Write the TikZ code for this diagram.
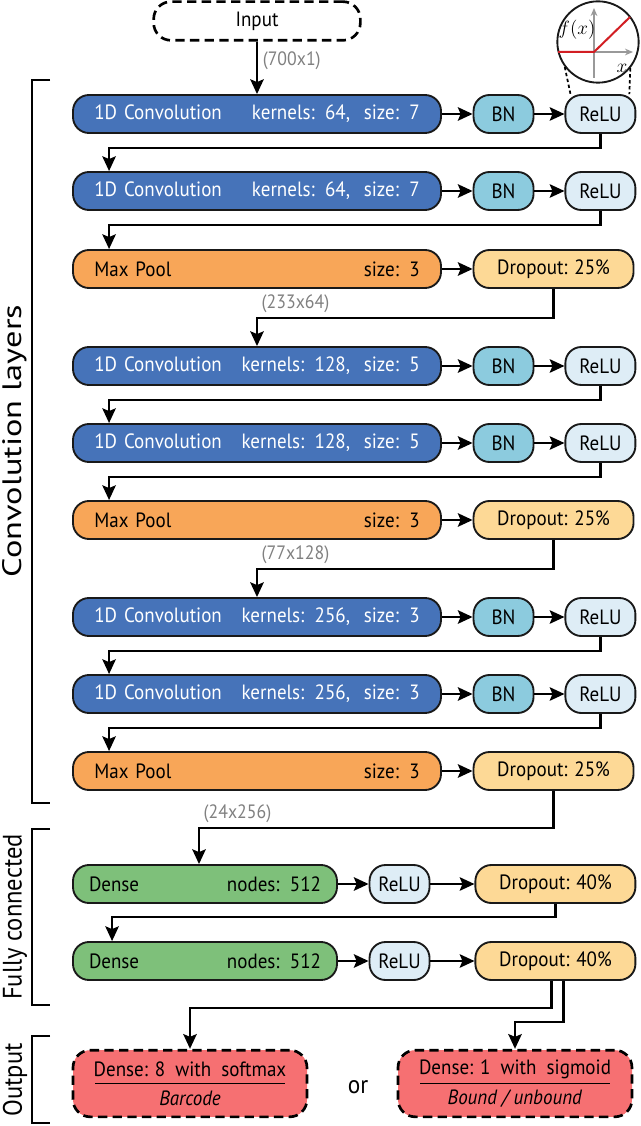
\documentclass[tikz,border=0pt]{standalone}
\usepackage{fontspec}
\setmainfont{PT Sans}[FakeStretch=0.92]
\usepackage{graphicx}
\usetikzlibrary{arrows.meta,positioning,calc}
\definecolor{convblue}{RGB}{70,115,185}
\definecolor{bnblue}{RGB}{140,203,222}
\definecolor{relublue}{RGB}{222,237,246}
\definecolor{poolorange}{RGB}{248,166,88}
\definecolor{dropyellow}{RGB}{253,217,150}
\definecolor{densegreen}{RGB}{126,192,122}
\definecolor{outred}{RGB}{246,112,114}
\definecolor{dimgray}{RGB}{128,128,128}
\definecolor{relured}{RGB}{210,30,35}
\newcommand\layerfont{\fontsize{15.5}{17}\selectfont}
\newcommand\dimfont{\fontsize{14.5}{16}\selectfont}
\newcommand\groupfont{\fontsize{20}{22}\selectfont}

\begin{document}
\begin{tikzpicture}[x=0.75pt, y=-0.75pt,
    box/.style={draw=black!90, line width=1.4pt, rounded corners=12pt, fill=#1, minimum height=28.5pt, font=\layerfont},
    layer/.style 2 args={box=#1, text width=#2, inner xsep=16pt, align=left},
    unit/.style={box=#1, inner xsep=2pt},
    outbox/.style={draw, line width=2pt, dash pattern=on 7pt off 4pt, rounded corners=13pt, fill=outred, minimum width=175.5pt, minimum height=50pt, align=center, font=\fontsize{15.5}{22}\selectfont},
    arr/.style={-{Stealth[length=11pt, width=10pt, inset=2pt]}, line width=2pt},
    dim/.style={font=\dimfont, text=dimgray},
    bracket/.style={line width=1.3pt},
    group/.style={font=\groupfont, rotate=90},
    axis/.style={-{Stealth[length=6pt, width=5pt]}, draw=dimgray!80, line width=1pt}
]
\useasboundingbox (0,0) rectangle (640,1126);

% input
\node[draw, line width=2pt, dash pattern=on 7pt off 4pt, rounded corners=13pt, minimum width=155pt, minimum height=29pt, font=\layerfont] (in) at (257,21) {Input};

% convolution block 1
\node[layer={convblue}{244pt}, text=white] (c1) at (257,114) {1D Convolution\hfill kernels: 64,\ \ size: 7};
\node[unit=bnblue, minimum width=45pt, right=23pt of c1] (bn1) {BN};
\node[unit=relublue, minimum width=52.5pt, right=22.5pt of bn1] (r1) {ReLU};
\node[layer={convblue}{244pt}, text=white] (c2) at (257,191) {1D Convolution\hfill kernels: 64,\ \ size: 7};
\node[unit=bnblue, minimum width=45pt, right=23pt of c2] (bn2) {BN};
\node[unit=relublue, minimum width=52.5pt, right=22.5pt of bn2] (r2) {ReLU};
\node[layer={poolorange}{244pt}] (mp1) at (257,269) {Max Pool\hfill size: 3};
\node[unit=dropyellow, minimum width=120pt, right=23pt of mp1] (do1) {Dropout: 25\%};

% convolution block 2
\node[layer={convblue}{244pt}, text=white] (c3) at (257,366) {1D Convolution\hfill kernels: 128,\ \ size: 5};
\node[unit=bnblue, minimum width=45pt, right=23pt of c3] (bn3) {BN};
\node[unit=relublue, minimum width=52.5pt, right=22.5pt of bn3] (r3) {ReLU};
\node[layer={convblue}{244pt}, text=white] (c4) at (257,443) {1D Convolution\hfill kernels: 128,\ \ size: 5};
\node[unit=bnblue, minimum width=45pt, right=23pt of c4] (bn4) {BN};
\node[unit=relublue, minimum width=52.5pt, right=22.5pt of bn4] (r4) {ReLU};
\node[layer={poolorange}{244pt}] (mp2) at (257,520) {Max Pool\hfill size: 3};
\node[unit=dropyellow, minimum width=120pt, right=23pt of mp2] (do2) {Dropout: 25\%};

% convolution block 3
\node[layer={convblue}{244pt}, text=white] (c5) at (257,617) {1D Convolution\hfill kernels: 256,\ \ size: 3};
\node[unit=bnblue, minimum width=45pt, right=23pt of c5] (bn5) {BN};
\node[unit=relublue, minimum width=52.5pt, right=22.5pt of bn5] (r5) {ReLU};
\node[layer={convblue}{244pt}, text=white] (c6) at (257,694) {1D Convolution\hfill kernels: 256,\ \ size: 3};
\node[unit=bnblue, minimum width=45pt, right=23pt of c6] (bn6) {BN};
\node[unit=relublue, minimum width=52.5pt, right=22.5pt of bn6] (r6) {ReLU};
\node[layer={poolorange}{244pt}] (mp3) at (257,771) {Max Pool\hfill size: 3};
\node[unit=dropyellow, minimum width=120pt, right=23pt of mp3] (do3) {Dropout: 25\%};

% fully connected
\node[layer={densegreen}{174pt}, inner xsep=12pt] (d1) at (205,884) {Dense\hfill nodes: 512};
\node[unit=relublue, minimum width=45pt, right=23pt of d1] (dr1) {ReLU};
\node[unit=dropyellow, minimum width=120pt, right=33pt of dr1] (dd1) {Dropout: 40\%};
\node[layer={densegreen}{174pt}, inner xsep=12pt] (d2) at (205,961) {Dense\hfill nodes: 512};
\node[unit=relublue, minimum width=45pt, right=23pt of d2] (dr2) {ReLU};
\node[unit=dropyellow, minimum width=120pt, right=33pt of dr2] (dd2) {Dropout: 40\%};

% output
\node[outbox] (o1) at (190,1083.5) {Dense: 8\ \ with\ \ softmax\\\textit{Barcode}};
\node[outbox] (o2) at (515,1083.5) {Dense: 1\ \ with\ \ sigmoid\\\textit{Bound / unbound}};
\node[font=\fontsize{19}{20}\selectfont] (or) at (358,1087) {or};
\draw[line width=0.9pt] ($(o1.center)+(-95,0)$) -- ($(o1.center)+(95,0)$);
\draw[line width=0.9pt] ($(o2.center)+(-95,0)$) -- ($(o2.center)+(95,0)$);

% ReLU inset
\node[circle, draw=black!90, line width=1.4pt, fill=white, minimum size=61pt, inner sep=0pt] (fx) at (598,42) {};
\begin{scope}[shift={(fx.center)}]
  \draw[axis] (-40,10) -- (35,10);
  \draw[axis] (-4,36) -- (-4,-34);
  \draw[relured, line width=1.5pt] (-40,10) -- (-4,10) -- (32,-25);
  \node[font=\fontsize{13.5}{15}\selectfont] at (-21,-12) {$f(x)$};
  \node[font=\fontsize{15}{17}\selectfont] at (24,26) {$x$};
\end{scope}
\draw[line width=1.3pt, dash pattern=on 2.5pt off 2pt] (fx.217) -- ($(r1.north west)+(6,0)$);
\draw[line width=1.3pt, dash pattern=on 2.5pt off 2pt] (fx.-39) -- ($(r1.north east)+(-7,0)$);

% connectors
\draw[arr] (in) -- (c1) node[dim, midway, right, yshift=5pt] {(700x1)};
\foreach \a/\b/\c in {c1/bn1/r1, c2/bn2/r2, c3/bn3/r3, c4/bn4/r4, c5/bn5/r5, c6/bn6/r6}{
  \draw[arr] (\a) -- (\b);
  \draw[arr] (\b) -- (\c);
}
\draw[arr] (mp1) -- (do1);
\draw[arr] (mp2) -- (do2);
\draw[arr] (mp3) -- (do3);
\draw[arr] (r1.south) -- ++(0,14) -| ($(c2.north west)+(37,0)$);
\draw[arr] (r2.south) -- ++(0,14) -| ($(mp1.north west)+(37,0)$);
\draw[arr] (r3.south) -- ++(0,14) -| ($(c4.north west)+(37,0)$);
\draw[arr] (r4.south) -- ++(0,14) -| ($(mp2.north west)+(37,0)$);
\draw[arr] (r5.south) -- ++(0,14) -| ($(c6.north west)+(37,0)$);
\draw[arr] (r6.south) -- ++(0,14) -| ($(mp3.north west)+(37,0)$);
\draw[arr] (do1.south) -- ++(0,29) coordinate (k1) -| (c3.north);
\node[dim, anchor=south west] at (k1 -| c3.north) {(233x64)};
\draw[arr] (do2.south) -- ++(0,29) coordinate (k2) -| (c5.north);
\node[dim, anchor=south west] at (k2 -| c5.north) {(77x128)};
\draw[arr] (do3.south) -- ++(0,37) coordinate (k3) -| ($(d1.north)+(-6,0)$);
\node[dim, anchor=south west] at ($(k3 -| d1.north)+(-6,0)$) {(24x256)};
\draw[arr] (dr1) -- (dd1);
\draw[arr] (d1) -- (dr1);
\draw[arr] (d2) -- (dr2);
\draw[arr] (dr2) -- (dd2);
\draw[arr] (dd1.south) -- ++(0,13) -| ($(d2.north west)+(40,0)$);
\draw[arr] ($(dd2.south)+(-4,0)$) -- ++(0,27) -| (o1.north);
\draw[arr] ($(dd2.south)+(8,0)$) -- ++(0,41) -| (o2.north);

% group brackets
\draw[bracket] (50,80) -- (32,80) -- (32,803) -- (50,803);
\node[group] (convlab) at (15,441) {\scalebox{1.4}[1]{Convolution layers}};
\draw[bracket] (50,829) -- (32,829) -- (32,1005) -- (50,1005);
\node[group] (fclab) at (15,917) {Fully connected};
\draw[bracket] (50,1036) -- (32,1036) -- (32,1123) -- (50,1123);
\node[group] (outlab) at (15,1080) {Output};
\end{tikzpicture}
\end{document}
